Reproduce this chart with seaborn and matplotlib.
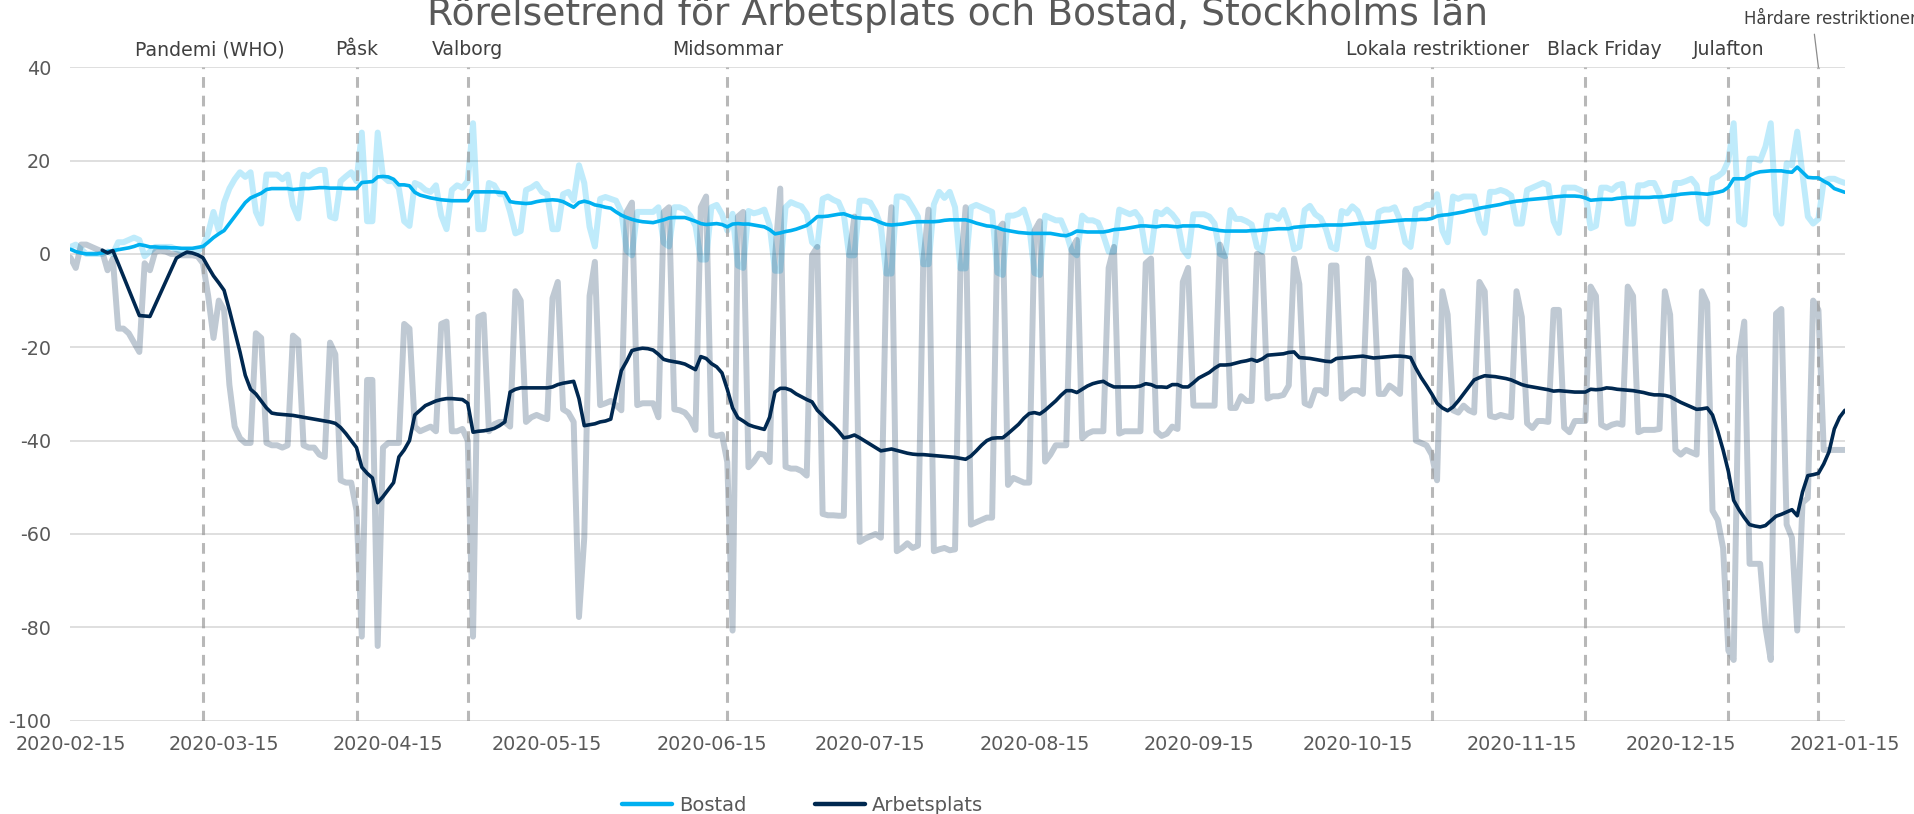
import numpy as np
import pandas as pd
import matplotlib.pyplot as plt
import matplotlib.dates as mdates
import seaborn as sns

# dagar 2020-02-15 .. 2021-01-15
datum = pd.date_range("2020-02-15", "2021-01-15", freq="D")

# Bostad, dagsvärden (en rad per vecka, lör-fre)
bostad_dag = [
    1.5, 2.0, 1.0, 0.0, 0.0, 0.0, 0.0,
    0.5, 0.0, 2.5, 2.5, 3.0, 3.5, 3.0,
    -0.5, 0.5, 1.5, 1.5, 1.5, 1.5, 1.0,
    0.5, 0.5, 0.5, 0.5, 1.5, 4.5, 9.0,
    5.0, 11.0, 14.0, 16.0, 17.5, 16.5, 17.5,
    9.0, 6.5, 17.0, 17.0, 17.0, 16.0, 17.0,
    10.4, 7.6, 17.0, 16.6, 17.5, 18.0, 18.0,
    8.0, 7.6, 15.6, 16.6, 17.5, 15.6, 26.0,
    7.0, 7.0, 26.0, 16.6, 15.6, 15.6, 14.0,
    7.0, 6.0, 15.2, 14.7, 13.7, 13.3, 14.7,
    8.2, 5.3, 13.7, 14.7, 14.2, 15.6, 28.0,
    5.3, 5.3, 15.2, 14.7, 12.8, 12.8, 9.0,
    4.4, 4.9, 13.7, 14.2, 15.0, 13.3, 12.8,
    5.3, 5.3, 12.8, 13.3, 11.5, 19.0, 15.2,
    5.8, 1.6, 11.8, 12.2, 11.8, 11.4, 9.0,
    0.7, -0.3, 9.0, 9.0, 9.0, 9.0, 10.0,
    2.4, 1.6, 10.0, 10.0, 9.5, 8.2, 6.0,
    -1.2, -1.2, 10.0, 10.5, 8.5, 5.0, 8.6,
    -2.5, -3.0, 9.2, 8.7, 9.0, 9.5, 6.1,
    -3.6, -3.6, 10.0, 11.1, 10.6, 10.2, 8.6,
    2.5, 1.5, 11.8, 12.3, 11.6, 11.1, 8.5,
    -0.3, -0.3, 11.4, 11.4, 11.0, 9.0, 6.0,
    -4.2, -4.2, 12.3, 12.3, 11.8, 10.0, 8.0,
    -2.2, -2.2, 10.6, 13.3, 12.0, 13.3, 10.0,
    -3.1, -3.1, 10.0, 10.5, 10.0, 9.5, 9.0,
    -4.0, -4.5, 8.2, 8.2, 8.6, 9.5, 6.0,
    -4.1, -4.5, 8.2, 7.7, 7.2, 7.2, 4.5,
    0.7, -0.3, 8.2, 7.2, 7.2, 6.7, 4.0,
    0.5, 0.5, 9.5, 9.0, 8.5, 9.0, 7.5,
    0.5, 0.5, 9.0, 8.5, 9.5, 8.5, 7.0,
    1.0, -0.5, 8.5, 8.5, 8.5, 8.0, 6.5,
    0.0, -0.5, 9.4, 7.5, 7.5, 7.0, 6.3,
    1.5, 0.5, 8.2, 8.2, 7.5, 9.4, 6.3,
    1.0, 1.5, 9.4, 10.3, 8.5, 7.7, 5.4,
    1.5, 1.0, 9.2, 8.7, 10.2, 9.2, 6.3,
    2.0, 1.5, 9.0, 9.5, 9.5, 10.0, 7.3,
    2.5, 1.5, 9.6, 9.8, 10.5, 10.5, 12.8,
    5.0, 2.5, 12.3, 11.8, 12.3, 12.3, 12.3,
    7.0, 4.5, 13.3, 13.3, 13.7, 13.3, 12.5,
    6.5, 6.5, 13.7, 14.2, 14.7, 15.2, 14.7,
    7.0, 4.5, 14.2, 14.2, 14.2, 13.7, 13.0,
    5.5, 6.0, 14.2, 14.2, 13.7, 14.7, 15.0,
    6.5, 6.5, 14.7, 14.7, 15.2, 15.2, 12.8,
    7.0, 7.5, 15.2, 15.2, 15.6, 16.1, 14.7,
    7.5, 6.5, 16.1, 16.6, 17.5, 20.0, 28.0,
    7.0, 6.3, 20.4, 20.4, 20.0, 23.0, 28.0,
    8.5, 6.5, 19.4, 19.0, 26.2, 17.0, 8.0,
    6.5, 7.5, 15.6, 16.1, 16.1, 15.6, 15.2,
]

# Arbetsplats, dagsvärden
arbetsplats_dag = [
    -0.8, -3.0, 2.0, 2.0, 1.5, 1.0, 0.5,
    -3.5, -1.0, -16.0, -16.0, -17.0, -19.0, -21.0,
    -2.0, -3.5, 0.5, 0.7, 0.5, 0.0, 0.0,
    -0.3, -0.3, -0.3, -0.5, -2.0, -9.0, -18.0,
    -10.0, -12.0, -28.0, -37.0, -39.5, -40.5, -40.5,
    -17.0, -18.0, -40.5, -41.0, -41.0, -41.5, -41.0,
    -17.5, -18.5, -41.0, -41.5, -41.5, -43.0, -43.5,
    -19.0, -21.5, -48.5, -49.0, -49.0, -55.0, -82.0,
    -27.0, -27.0, -84.0, -41.5, -40.5, -40.5, -40.5,
    -15.0, -16.0, -37.0, -38.0, -37.5, -37.0, -38.0,
    -15.0, -14.5, -38.0, -38.0, -37.5, -40.0, -82.0,
    -13.5, -13.0, -38.0, -36.5, -36.0, -36.0, -37.0,
    -8.0, -10.0, -36.0, -35.0, -34.5, -35.0, -35.4,
    -9.5, -6.0, -33.3, -34.0, -36.0, -77.8, -60.8,
    -9.0, -1.7, -32.4, -32.0, -31.5, -32.4, -33.5,
    9.0, 11.0, -32.4, -32.0, -32.0, -32.0, -35.0,
    9.0, 10.0, -33.3, -33.5, -34.0, -35.4, -37.7,
    10.0, 12.3, -38.7, -39.0, -38.7, -44.6, -80.7,
    8.0, 9.0, -45.7, -44.5, -42.8, -43.0, -44.6,
    -1.0, 14.0, -45.6, -46.0, -46.0, -46.5, -47.5,
    -0.3, 1.5, -55.7, -56.0, -56.0, -56.1, -56.1,
    -0.5, 8.0, -61.7, -61.0, -60.5, -60.0, -60.8,
    -5.0, 10.0, -63.7, -63.0, -62.0, -63.0, -62.5,
    -1.5, 9.5, -63.7, -63.3, -63.0, -63.5, -63.3,
    -4.0, 10.0, -58.0, -57.5, -57.0, -56.5, -56.5,
    5.0, 6.5, -49.5, -48.0, -48.5, -49.0, -49.0,
    5.0, 7.0, -44.5, -43.0, -41.0, -41.0, -41.0,
    1.0, 3.0, -39.5, -38.5, -38.0, -38.0, -38.0,
    -3.0, 1.5, -38.5, -38.0, -38.0, -38.0, -38.0,
    -2.0, -1.0, -38.0, -39.0, -38.5, -37.0, -37.5,
    -6.0, -3.0, -32.5, -32.5, -32.5, -32.5, -32.5,
    2.0, -1.0, -33.0, -33.0, -30.5, -31.5, -31.5,
    0.0, -0.5, -31.0, -30.5, -30.5, -30.2, -28.2,
    -1.0, -6.5, -32.0, -32.5, -29.2, -29.2, -30.0,
    -2.5, -2.5, -31.0, -30.0, -29.2, -29.2, -30.0,
    -1.0, -6.0, -30.0, -30.0, -28.2, -29.0, -30.0,
    -3.5, -5.5, -40.0, -40.5, -41.0, -43.0, -48.5,
    -8.0, -13.0, -33.5, -34.0, -32.5, -33.5, -34.0,
    -6.0, -8.0, -34.7, -35.0, -34.5, -34.8, -35.0,
    -8.0, -13.5, -36.3, -37.3, -35.8, -35.8, -36.0,
    -12.0, -12.0, -37.2, -38.2, -35.8, -35.8, -35.8,
    -7.0, -9.0, -36.6, -37.2, -36.6, -36.3, -36.6,
    -7.0, -9.0, -38.2, -37.7, -37.7, -37.7, -37.5,
    -8.0, -13.0, -42.0, -43.0, -42.0, -42.5, -43.0,
    -8.0, -10.5, -55.0, -57.0, -63.0, -85.0, -87.0,
    -22.0, -14.5, -66.4, -66.4, -66.4, -80.0, -87.0,
    -12.8, -11.8, -58.0, -60.8, -80.7, -53.3, -52.3,
    -10.0, -12.0, -42.0, -42.0, -42.0, -42.0, -42.0,
]

# Bostad, trend (7 dagar)
bostad_trend = [
    1.0, 0.5, 0.2, 0.0, 0.0, 0.0, 0.2,
    0.5, 0.7, 0.9, 1.1, 1.3, 1.6, 2.0,
    1.8, 1.5, 1.5, 1.4, 1.4, 1.3, 1.3,
    1.2, 1.2, 1.2, 1.4, 1.6, 2.5, 3.5,
    4.3, 5.0, 6.5, 8.0, 9.5, 11.0, 12.0,
    12.5, 13.0, 13.8, 14.0, 14.0, 14.0, 14.0,
    13.8, 13.9, 14.0, 14.0, 14.1, 14.2, 14.2,
    14.1, 14.1, 14.1, 14.0, 14.0, 14.0, 15.3,
    15.4, 15.5, 16.5, 16.6, 16.5, 16.0, 14.8,
    14.8, 14.6, 13.2, 12.6, 12.3, 12.0, 11.8,
    11.6, 11.5, 11.4, 11.4, 11.4, 11.4, 13.3,
    13.3, 13.3, 13.3, 13.3, 13.2, 13.1, 11.2,
    11.0, 10.9, 10.8, 10.9, 11.2, 11.4, 11.5,
    11.6, 11.5, 11.2, 10.6, 10.0, 11.0, 11.3,
    11.0, 10.5, 10.3, 10.0, 9.8, 9.0, 8.3,
    7.8, 7.4, 7.1, 6.9, 6.8, 6.7, 7.0,
    7.3, 7.7, 7.8, 7.8, 7.8, 7.4, 7.0,
    6.5, 6.3, 6.4, 6.5, 6.3, 5.8, 6.4,
    6.5, 6.4, 6.4, 6.2, 6.0, 5.8, 5.2,
    4.3, 4.5, 4.8, 5.0, 5.3, 5.7, 6.1,
    7.0, 8.0, 8.0, 8.1, 8.3, 8.5, 8.6,
    8.2, 7.8, 7.7, 7.6, 7.6, 7.2, 6.7,
    6.3, 6.2, 6.3, 6.4, 6.6, 6.8, 6.9,
    6.9, 6.9, 6.9, 7.0, 7.2, 7.3, 7.3,
    7.3, 7.3, 7.0, 6.6, 6.3, 6.0, 5.9,
    5.6, 5.2, 5.0, 4.8, 4.6, 4.5, 4.4,
    4.4, 4.4, 4.4, 4.4, 4.2, 4.0, 3.9,
    4.3, 4.9, 4.8, 4.7, 4.7, 4.7, 4.7,
    4.9, 5.2, 5.3, 5.4, 5.6, 5.8, 6.0,
    6.0, 5.9, 5.8, 6.0, 6.0, 5.9, 5.8,
    6.0, 6.0, 6.0, 6.0, 5.7, 5.4, 5.2,
    5.0, 4.9, 4.9, 4.9, 4.9, 4.9, 5.0,
    5.0, 5.1, 5.2, 5.3, 5.4, 5.4, 5.4,
    5.7, 5.8, 5.9, 6.0, 6.0, 6.1, 6.2,
    6.2, 6.2, 6.2, 6.3, 6.4, 6.5, 6.6,
    6.6, 6.7, 6.8, 6.9, 7.0, 7.1, 7.2,
    7.3, 7.3, 7.3, 7.4, 7.4, 7.6, 8.1,
    8.3, 8.4, 8.6, 8.8, 9.0, 9.3, 9.5,
    9.8, 10.0, 10.2, 10.4, 10.6, 10.9, 11.1,
    11.3, 11.4, 11.6, 11.7, 11.8, 11.9, 12.0,
    12.2, 12.3, 12.4, 12.4, 12.4, 12.3, 12.0,
    11.5, 11.6, 11.7, 11.7, 11.7, 11.9, 12.0,
    12.1, 12.1, 12.1, 12.1, 12.1, 12.2, 12.2,
    12.3, 12.5, 12.6, 12.8, 12.9, 13.0, 13.0,
    12.9, 12.8, 13.0, 13.2, 13.5, 14.3, 16.1,
    16.1, 16.1, 16.8, 17.3, 17.6, 17.7, 17.8,
    17.8, 17.8, 17.6, 17.5, 18.6, 17.5, 16.4,
    16.3, 16.3, 15.6, 15.0, 14.0, 13.6, 13.2,
]

# Arbetsplats, trend (7 dagar), saknas de första dagarna
arbetsplats_trend = [
    np.nan, np.nan, np.nan, np.nan, np.nan, np.nan, 0.8,
    0.2, 0.7, -2.0, -4.8, -7.6, -10.4, -13.2,
    -13.3, -13.4, -10.9, -8.4, -5.9, -3.4, -0.9,
    -0.2, 0.4, 0.2, -0.2, -0.8, -2.8, -4.7,
    -6.2, -7.8, -12.0, -16.5, -21.0, -26.0, -29.0,
    -30.0, -31.5, -33.0, -34.1, -34.3, -34.4, -34.5,
    -34.6, -34.8, -35.0, -35.2, -35.4, -35.6, -35.8,
    -36.0, -36.3, -37.2, -38.5, -40.0, -41.5, -45.7,
    -47.0, -48.0, -53.3, -52.0, -50.5, -49.0, -43.5,
    -42.0, -40.0, -34.5, -33.5, -32.5, -32.0, -31.5,
    -31.2, -31.0, -31.0, -31.1, -31.2, -32.0, -38.2,
    -38.0, -37.9, -37.7, -37.4, -36.8, -36.0, -29.6,
    -29.0, -28.7, -28.7, -28.7, -28.7, -28.7, -28.7,
    -28.5, -28.0, -27.7, -27.5, -27.3, -31.0, -36.8,
    -36.6, -36.4, -36.0, -35.8, -35.4, -30.0, -25.0,
    -23.0, -20.7, -20.4, -20.2, -20.3, -20.6, -21.5,
    -22.6, -22.9, -23.1, -23.3, -23.6, -24.2, -24.8,
    -22.0, -22.4, -23.5, -24.2, -25.5, -29.0, -33.0,
    -35.1, -35.8, -36.6, -37.0, -37.3, -37.6, -35.0,
    -29.6, -28.8, -28.8, -29.2, -30.0, -30.6, -31.2,
    -31.7, -33.5, -34.6, -35.8, -36.8, -38.0, -39.4,
    -39.2, -38.8, -39.4, -40.1, -40.8, -41.5, -42.2,
    -42.0, -41.8, -42.1, -42.4, -42.7, -42.9, -43.0,
    -43.0, -43.1, -43.2, -43.3, -43.4, -43.5, -43.6,
    -43.8, -44.0, -43.3, -42.2, -41.0, -40.0, -39.5,
    -39.4, -39.4, -38.5, -37.5, -36.5, -35.2, -34.2,
    -34.0, -34.3, -33.5, -32.5, -31.5, -30.3, -29.3,
    -29.3, -29.7, -29.0, -28.3, -27.8, -27.5, -27.3,
    -28.0, -28.5, -28.5, -28.5, -28.5, -28.5, -28.3,
    -27.8, -28.0, -28.5, -28.5, -28.6, -28.0, -28.0,
    -28.5, -28.5, -27.6, -26.6, -26.0, -25.4, -24.5,
    -23.8, -23.8, -23.7, -23.4, -23.1, -22.9, -22.6,
    -23.0, -22.5, -21.7, -21.6, -21.5, -21.4, -21.1,
    -21.0, -22.2, -22.3, -22.4, -22.6, -22.8, -23.0,
    -23.1, -22.4, -22.3, -22.2, -22.1, -22.0, -21.9,
    -22.1, -22.3, -22.2, -22.1, -22.0, -21.9, -21.9,
    -22.0, -22.2, -24.5, -26.5, -28.2, -30.0, -32.0,
    -33.0, -33.6, -32.8, -31.5, -30.0, -28.5, -27.0,
    -26.5, -26.1, -26.2, -26.3, -26.5, -26.7, -27.0,
    -27.5, -28.0, -28.3, -28.5, -28.7, -28.9, -29.1,
    -29.4, -29.3, -29.4, -29.5, -29.6, -29.6, -29.6,
    -29.0, -29.1, -29.0, -28.7, -28.8, -29.0, -29.1,
    -29.2, -29.3, -29.5, -29.7, -30.0, -30.2, -30.2,
    -30.3, -30.6, -31.2, -31.8, -32.3, -32.8, -33.3,
    -33.2, -33.0, -34.5, -38.0, -42.0, -46.6, -52.8,
    -54.8, -56.5, -58.0, -58.3, -58.5, -58.2, -57.2,
    -56.2, -55.8, -55.3, -54.8, -56.1, -51.0, -47.5,
    -47.3, -47.0, -45.0, -42.4, -37.5, -35.0, -33.5,
]

handelser = ["Pandemi (WHO)", "Påsk", "Valborg", "Midsommar",
             "Lokala restriktioner", "Black Friday", "Julafton",
             "Hårdare restriktioner"]
handelse_datum = ["2020-03-11", "2020-04-09", "2020-04-30", "2020-06-18",
                  "2020-10-29", "2020-11-27", "2020-12-24", "2021-01-10"]

df = pd.DataFrame({
    "datum": datum,
    "bostad_dag": bostad_dag,
    "arbetsplats_dag": arbetsplats_dag,
    "bostad_trend": bostad_trend,
    "arbetsplats_trend": arbetsplats_trend,
})

sns.set_style("white")
plt.rcParams["font.family"] = ["DejaVu Sans"]
plt.rcParams["axes.unicode_minus"] = False

BLA = "#00B0F0"
MORK = "#002850"
GRA_TEXT = "#595959"

fig = plt.figure(figsize=(19.15, 8.14), dpi=100)
ax = fig.add_axes([0.0368, 0.1147, 0.9266, 0.8027])

sns.lineplot(data=df, x="datum", y="bostad_dag", color=BLA, alpha=0.25,
             linewidth=4.3, ax=ax, legend=False, solid_capstyle="round")
sns.lineplot(data=df, x="datum", y="arbetsplats_dag", color=MORK, alpha=0.25,
             linewidth=4.3, ax=ax, legend=False, solid_capstyle="round")

# händelselinjer
offs = [5, 0, 0, 0, 4.5, 14, 0]
for i, (namn, d) in enumerate(zip(handelser, handelse_datum)):
    d = pd.Timestamp(d)
    ax.axvline(d, color="#9a9a9a", alpha=0.7, lw=2.2, ls=(0, (3.5, 2.6)), zorder=3)
    if namn == "Hårdare restriktioner":
        ax.annotate(namn, xy=(d, 1.0), xycoords=("data", "axes fraction"),
                    xytext=(9, 31), textcoords="offset points",
                    ha="center", va="baseline", fontsize=11.9, color="#404040",
                    arrowprops=dict(arrowstyle="-", color="#8c8c8c", lw=0.9,
                                    relpos=(0.4, 0.0), shrinkA=2, shrinkB=0))
    else:
        ax.annotate(namn, xy=(d, 1.0), xycoords=("data", "axes fraction"),
                    xytext=(offs[i], 8.5), textcoords="offset points",
                    ha="center", va="baseline", fontsize=13.6, color="#404040")

sns.lineplot(data=df, x="datum", y="bostad_trend", color=BLA,
             linewidth=2.6, ax=ax, legend=False, zorder=4)
sns.lineplot(data=df, x="datum", y="arbetsplats_trend", color=MORK,
             linewidth=2.6, ax=ax, legend=False, zorder=5)

ax.set_xlim(datum[0], datum[-1])
ax.set_ylim(-100, 40)
ax.set_yticks(range(-100, 41, 20))
ax.xaxis.set_major_locator(mdates.DayLocator(bymonthday=15))
ax.xaxis.set_major_formatter(mdates.DateFormatter("%Y-%m-%d"))
ax.set_xlabel("")
ax.set_ylabel("")
ax.grid(axis="y", color="#d9d9d9", lw=1.2)
ax.grid(axis="x", visible=False)
for s in ax.spines.values():
    s.set_visible(False)
ax.tick_params(axis="both", length=0, labelsize=13.8, colors=GRA_TEXT)
ax.tick_params(axis="x", pad=10.5)
ax.tick_params(axis="y", pad=14)

fig.text(0.5, 1 - 25 / 814, "Rörelsetrend för Arbetsplats och Bostad, Stockholms län",
         ha="center", va="baseline", fontsize=27.1, color=GRA_TEXT)

handles = [plt.Line2D([], [], color=BLA, lw=3.2, solid_capstyle="round"),
           plt.Line2D([], [], color=MORK, lw=3.2, solid_capstyle="round")]
leg = fig.legend(handles, ["Bostad", "Arbetsplats"], loc="center",
                 bbox_to_anchor=(0.419, 0.011), ncol=2, frameon=False,
                 fontsize=14, handlelength=2.6, handletextpad=0.35,
                 columnspacing=3.5)
for t in leg.get_texts():
    t.set_color(GRA_TEXT)

fig.savefig("out.png", dpi=100)
